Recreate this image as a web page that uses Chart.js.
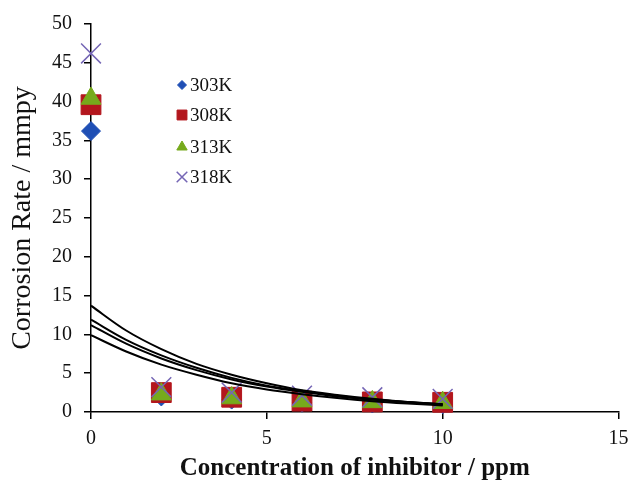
<!DOCTYPE html>
<html>
<head>
<meta charset="utf-8">
<script src="https://cdn.jsdelivr.net/npm/chart.js@4"></script>
<style>
  body { margin: 0; background: #fff; }
  #wrap { width: 634px; height: 482px; }
</style>
</head>
<body>
<div id="wrap"><canvas id="corrosionChart" width="634" height="482"></canvas></div>
<script>
// measured points (inhibitor concentration in ppm)
const conc = [0, 2, 4, 6, 8, 10];
const rate303 = [36.2, 2.0, 1.6, 1.2, 1.1, 1.0];
const rate308 = [39.6, 2.5, 1.9, 1.4, 1.3, 1.25];
const rate313 = [40.4, 2.3, 1.8, 1.4, 1.3, 1.2];
const rate318 = [46.2, 3.2, 2.5, 2.1, 1.9, 1.7];

// trend curves
const trendConc = [0, 1, 2, 3, 4, 5, 6, 7, 8, 9, 10];
const trend303 = [9.9, 7.8, 6.1, 4.8, 3.7, 2.9, 2.3, 1.8, 1.4, 1.1, 0.85];
const trend308 = [11.2, 8.8, 6.9, 5.4, 4.2, 3.3, 2.6, 2.0, 1.6, 1.25, 0.95];
const trend313 = [11.9, 9.3, 7.3, 5.7, 4.4, 3.4, 2.7, 2.1, 1.6, 1.3, 1.0];
const trend318 = [13.7, 10.5, 8.1, 6.2, 4.8, 3.7, 2.8, 2.2, 1.7, 1.3, 1.0];

const xTicks = [0, 5, 10, 15];
const yTicks = [0, 5, 10, 15, 20, 25, 30, 35, 40, 45, 50];

const serif = "'Liberation Serif', 'Times New Roman', serif";

function pts(xs, ys) {
  return xs.map((x, i) => ({ x: x, y: ys[i] }));
}

function trend(ys) {
  return {
    label: 'trend',
    data: pts(trendConc, ys),
    showLine: true,
    borderColor: '#000',
    borderWidth: 2,
    pointRadius: 0,
    cubicInterpolationMode: 'monotone',
    order: 0
  };
}

const markerSets = [
  { label: '303K', data: pts(conc, rate303), pointStyle: 'rectRot', pointRadius: 9.5,
    backgroundColor: '#1f4fb5', borderColor: '#1f4fb5', borderWidth: 1, order: 4,
    legendRadius: 4.5, clip: false },
  { label: '308K', data: pts(conc, rate308), pointStyle: 'rect', pointRadius: 14,
    backgroundColor: '#b3161d', borderColor: '#b3161d', borderWidth: 1, order: 3,
    legendRadius: 7, clip: false },
  { label: '313K', data: pts(conc, rate313), pointStyle: 'triangle', pointRadius: 11.5,
    backgroundColor: '#76aa1c', borderColor: '#76aa1c', borderWidth: 1, order: 2,
    legendRadius: 6, clip: false },
  { label: '318K', data: pts(conc, rate318), pointStyle: 'crossRot', pointRadius: 14,
    backgroundColor: '#7566b5', borderColor: '#7566b5', borderWidth: 1.5, order: 1,
    legendRadius: 7.5, clip: false }
];

// small legend drawn inside the plot, like the original
const innerLegend = {
  id: 'innerLegend',
  afterDraw(chart) {
    const ctx = chart.ctx;
    const rows = [85, 115, 147, 177];
    ctx.save();
    ctx.font = '19px ' + serif;
    ctx.textBaseline = 'middle';
    markerSets.forEach((ds, i) => {
      const y = rows[i];
      ctx.fillStyle = ds.backgroundColor;
      ctx.strokeStyle = ds.borderColor;
      ctx.lineWidth = ds.borderWidth;
      Chart.helpers.drawPoint(ctx, {
        pointStyle: ds.pointStyle, radius: ds.legendRadius, rotation: 0, borderWidth: ds.borderWidth
      }, 182, y);
      ctx.fillStyle = '#111';
      ctx.fillText(ds.label, 190, y + 1);
    });
    ctx.restore();
  }
};

const ctx = document.getElementById('corrosionChart').getContext('2d');

new Chart(ctx, {
  type: 'scatter',
  data: {
    datasets: [
      trend(trend303), trend(trend308), trend(trend313), trend(trend318),
      ...markerSets
    ]
  },
  options: {
    responsive: false,
    animation: false,
    layout: { padding: { left: 0, right: 12, top: 20, bottom: 0 } },
    plugins: {
      legend: { display: false },
      tooltip: { enabled: false }
    },
    scales: {
      x: {
        type: 'linear',
        min: 0,
        max: 15,
        afterBuildTicks: (axis) => { axis.ticks = xTicks.map(v => ({ value: v })); },
        afterFit: (axis) => {
          axis.height = 70;
          axis.paddingLeft = 0;
          axis.paddingRight = 0;
        },
        grid: { drawOnChartArea: false, drawTicks: true, tickLength: 7, color: '#000', lineWidth: 1.5 },
        border: { color: '#000', width: 1.5 },
        ticks: { color: '#111', padding: 8, font: { family: serif, size: 20 } },
        title: {
          display: true,
          text: 'Concentration of inhibitor / ppm',
          color: '#111',
          font: { family: serif, size: 25, weight: 'bold', lineHeight: 1 },
          padding: { top: 1, bottom: 1 }
        }
      },
      y: {
        type: 'linear',
        min: 0,
        max: 50,
        afterBuildTicks: (axis) => { axis.ticks = yTicks.map(v => ({ value: v })); },
        afterFit: (axis) => { axis.width = 91; },
        grid: { drawOnChartArea: false, drawTicks: true, tickLength: 7, color: '#000', lineWidth: 1.5 },
        border: { color: '#000', width: 1.5 },
        ticks: { color: '#111', padding: 12, font: { family: serif, size: 20 } },
        title: {
          display: true,
          text: 'Corrosion Rate / mmpy',
          color: '#111',
          font: { family: serif, size: 28, lineHeight: 1.2 },
          padding: { top: 6, bottom: 6 }
        }
      }
    }
  },
  plugins: [innerLegend]
});
</script>
</body>
</html>
